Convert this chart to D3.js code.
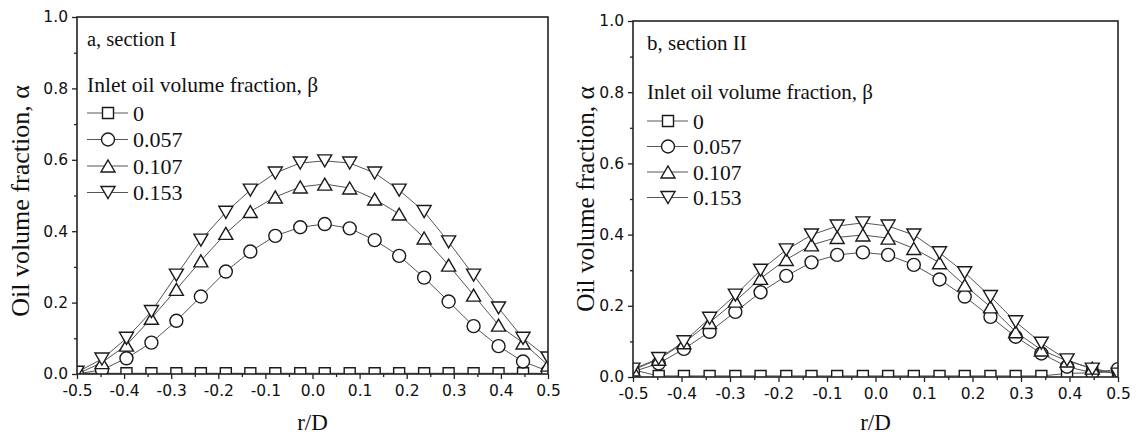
<!DOCTYPE html>
<html lang="en">
<head>
<meta charset="UTF-8">
<title>Oil volume fraction profiles</title>
<style>
  body { margin: 0; background: #fff; }
</style>
</head>
<body>
<svg id="svg" width="1137" height="435"></svg>

<script src="https://d3js.org/d3.v7.min.js"></script>
<script>
// radial positions r/D (20 measuring points across the pipe)
const rD = [-0.5, -0.447, -0.395, -0.342, -0.289, -0.237, -0.184, -0.132, -0.079, -0.026,
            0.026, 0.079, 0.132, 0.184, 0.237, 0.289, 0.342, 0.395, 0.447, 0.5]

const betas = ["0", "0.057", "0.107", "0.153"]

const xTicks = [-0.5, -0.4, -0.3, -0.2, -0.1, 0.0, 0.1, 0.2, 0.3, 0.4, 0.5]
const xTickLabels = ["-0.5", "-0.4", "-0.3", "-0.2", "-0.1", "0.0", "0.1", "0.2", "0.3", "0.4", "0.5"]
const yTicks = [0.0, 0.2, 0.4, 0.6, 0.8, 1.0]
const yTickLabels = ["0.0", "0.2", "0.4", "0.6", "0.8", "1.0"]

// section I
const secI_b0    = [0.002, 0.002, 0.002, 0.002, 0.002, 0.002, 0.002, 0.002, 0.002, 0.002,
                    0.002, 0.002, 0.002, 0.002, 0.002, 0.002, 0.002, 0.002, 0.002, 0.002]
const secI_b057  = [0.0, 0.012, 0.044, 0.088, 0.149, 0.217, 0.287, 0.343, 0.387, 0.411,
                    0.420, 0.408, 0.375, 0.331, 0.270, 0.203, 0.134, 0.078, 0.035, 0.008]
const secI_b107  = [0.0, 0.032, 0.081, 0.156, 0.237, 0.317, 0.394, 0.455, 0.496, 0.524,
                    0.532, 0.521, 0.490, 0.448, 0.381, 0.305, 0.221, 0.137, 0.087, 0.025]
const secI_b153  = [0.005, 0.042, 0.100, 0.175, 0.277, 0.375, 0.453, 0.515, 0.563, 0.591,
                    0.597, 0.591, 0.563, 0.515, 0.455, 0.370, 0.277, 0.185, 0.100, 0.045]

// section II
const secII_b0   = [0.020, 0.003, 0.003, 0.003, 0.003, 0.003, 0.003, 0.003, 0.003, 0.003,
                    0.003, 0.003, 0.003, 0.003, 0.003, 0.003, 0.003, 0.010, 0.012, 0.015]
const secII_b057 = [0.015, 0.038, 0.079, 0.127, 0.183, 0.238, 0.284, 0.322, 0.343, 0.350,
                    0.343, 0.315, 0.274, 0.226, 0.169, 0.113, 0.066, 0.029, 0.012, 0.022]
const secII_b107 = [0.020, 0.050, 0.096, 0.153, 0.213, 0.277, 0.330, 0.371, 0.392, 0.399,
                    0.390, 0.361, 0.321, 0.258, 0.197, 0.127, 0.076, 0.045, 0.025, 0.008]
const secII_b153 = [0.022, 0.052, 0.099, 0.165, 0.230, 0.300, 0.357, 0.399, 0.424, 0.433,
                    0.424, 0.399, 0.349, 0.293, 0.226, 0.155, 0.095, 0.048, 0.022, 0.008]

const panels = [
  { id: "a", label: "a, section I", left: 77, right: 548, top: 17, bottom: 374,
    series: [secI_b0, secI_b057, secI_b107, secI_b153],
    yTitleX: 29, yTitleY: 201, legendFont: 21.5, titleFont: 20.5, yTitleFont: 26,
    legendX: 87, legendTop: 92, rowOffset: 21, rowGap: 26.5 },
  { id: "b", label: "b, section II", left: 633, right: 1118, top: 21, bottom: 377,
    series: [secII_b0, secII_b057, secII_b107, secII_b153],
    yTitleX: 594, yTitleY: 199, legendFont: 21, titleFont: 21, yTitleFont: 25.3,
    legendX: 647, legendTop: 99, rowOffset: 22, rowGap: 25.5 }
]

const shapes = ["square", "circle", "up", "down"]

function markerPath(shape) {
  const p = d3.path()
  if (shape === "square") {
    p.rect(-5.5, -5.5, 11, 11)
  } else if (shape === "circle") {
    p.arc(0, 0, 6.5, 0, 2 * Math.PI)
  } else if (shape === "up") {
    p.moveTo(0, -6); p.lineTo(7, 6); p.lineTo(-7, 6); p.closePath()
  } else {
    p.moveTo(0, 6); p.lineTo(7, -6); p.lineTo(-7, -6); p.closePath()
  }
  return p.toString()
}

const svg = d3.select("#svg")
const sans = "DejaVu Sans, sans-serif"
const serif = "Liberation Serif, Times New Roman, serif"

panels.forEach(pn => {
  const x = d3.scaleLinear().domain([-0.5, 0.5]).range([pn.left, pn.right])
  const y = d3.scaleLinear().domain([0, 1]).range([pn.bottom, pn.top])

  const g = svg.append("g")

  svg.append("clipPath").attr("id", "clip-" + pn.id)
    .append("rect")
    .attr("x", pn.left).attr("y", pn.top)
    .attr("width", pn.right - pn.left).attr("height", pn.bottom - pn.top)

  const plot = g.append("g").attr("clip-path", "url(#clip-" + pn.id + ")")

  const line = d3.line().x((d, i) => x(rD[i])).y(d => y(d))

  pn.series.forEach(s => {
    plot.append("path")
      .attr("d", line(s))
      .attr("fill", "none")
      .attr("stroke", "#555")
      .attr("stroke-width", 1)
  })

  pn.series.forEach((s, k) => {
    plot.selectAll(null)
      .data(s)
      .enter()
      .append("path")
      .attr("transform", (d, i) => `translate(${x(rD[i])},${y(d)})`)
      .attr("d", markerPath(shapes[k]))
      .attr("fill", "#fff")
      .attr("stroke", "#1a1a1a")
      .attr("stroke-width", 1.4)
  })

  // frame
  g.append("rect")
    .attr("x", pn.left).attr("y", pn.top)
    .attr("width", pn.right - pn.left).attr("height", pn.bottom - pn.top)
    .attr("fill", "none").attr("stroke", "#222").attr("stroke-width", 1.6)

  // x axis
  const xAxis = d3.axisBottom(x).tickValues(xTicks)
    .tickFormat((d, i) => xTickLabels[i]).tickSize(5).tickPadding(6)
  const xa = g.append("g").attr("transform", `translate(0,${pn.bottom})`).call(xAxis)
  xa.select(".domain").remove()
  const xMinor = d3.axisBottom(x).tickValues(xTicks.slice(0, -1).map(v => v + 0.05))
    .tickFormat("").tickSize(3)
  const xm = g.append("g").attr("transform", `translate(0,${pn.bottom})`).call(xMinor)
  xm.select(".domain").remove()

  // y axis
  const yAxis = d3.axisLeft(y).tickValues(yTicks)
    .tickFormat((d, i) => yTickLabels[i]).tickSize(5).tickPadding(4)
  const ya = g.append("g").attr("transform", `translate(${pn.left},0)`).call(yAxis)
  ya.select(".domain").remove()
  const yMinor = d3.axisLeft(y).tickValues(yTicks.slice(0, -1).map(v => v + 0.1))
    .tickFormat("").tickSize(3)
  const ym = g.append("g").attr("transform", `translate(${pn.left},0)`).call(yMinor)
  ym.select(".domain").remove()

  g.selectAll(".tick line").attr("stroke", "#222").attr("stroke-width", 1.3)
  g.selectAll(".tick text").attr("font-family", sans).attr("font-size", 15.5).attr("fill", "#111")

  // axis titles
  g.append("text")
    .attr("x", (pn.left + pn.right) / 2).attr("y", 430)
    .attr("text-anchor", "middle")
    .attr("font-family", serif).attr("font-size", 23).attr("fill", "#111")
    .text("r/D")

  g.append("text")
    .attr("transform", `translate(${pn.yTitleX},${pn.yTitleY}) rotate(-90)`)
    .attr("text-anchor", "middle")
    .attr("font-family", serif).attr("font-size", pn.yTitleFont).attr("fill", "#111")
    .text("Oil volume fraction, α")

  // panel label + legend
  const lx = pn.legendX
  g.append("text")
    .attr("x", lx).attr("y", pn.top + 29)
    .attr("font-family", serif).attr("font-size", pn.titleFont).attr("fill", "#111")
    .text(pn.label)

  g.append("text")
    .attr("x", lx).attr("y", pn.legendTop)
    .attr("font-family", serif).attr("font-size", pn.legendFont).attr("fill", "#111")
    .text("Inlet oil volume fraction, β")

  const leg = g.selectAll(".leg")
    .data(betas)
    .enter()
    .append("g")
    .attr("transform", (d, i) => `translate(${lx},${pn.legendTop + pn.rowOffset + i * pn.rowGap})`)

  leg.append("line")
    .attr("x1", 0).attr("x2", 41).attr("y1", 0).attr("y2", 0)
    .attr("stroke", "#555").attr("stroke-width", 1)
  leg.append("path")
    .attr("transform", "translate(21,0)")
    .attr("d", (d, i) => markerPath(shapes[i]))
    .attr("fill", "#fff").attr("stroke", "#1a1a1a").attr("stroke-width", 1.4)
  leg.append("text")
    .attr("x", 46).attr("y", 7.5)
    .attr("font-family", serif).attr("font-size", pn.legendFont + 0.5).attr("fill", "#111")
    .text(d => d)
})
</script>
</body>
</html>
